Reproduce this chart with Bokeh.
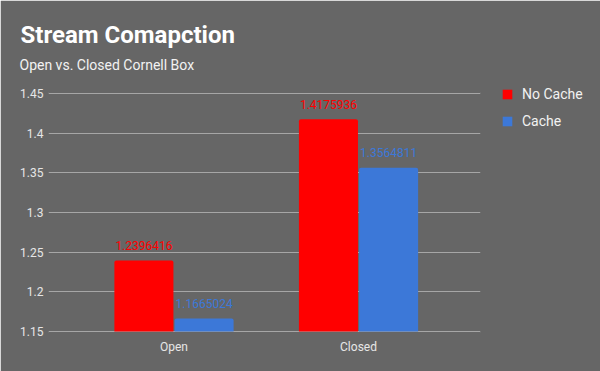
from bokeh.plotting import figure
from bokeh.models import (ColumnDataSource, Range1d, FixedTicker, Title, Legend, LegendItem)
from bokeh.core.properties import value
from bokeh.embed import file_html
from bokeh.resources import INLINE

categories = ["Open", "Closed"]
no_cache = [1.2396416, 1.4175936]
cache = [1.1665024, 1.3564811]
y_ticks = [1.15, 1.2, 1.25, 1.3, 1.35, 1.4, 1.45]

BG = "#666666"
RED = "#ff0000"
BLUE = "#3c78d8"
FONT = "Roboto"

xs = list(range(len(categories)))
bw = 0.32
off = 0.163
pad = 0.3 / 238  # one pixel of headroom so edge gridlines are not covered by the outline

p = figure(frame_width=432, frame_height=240, width=600, height=371,
           x_range=Range1d(-0.68, 1.661), y_range=Range1d(1.15 - pad, 1.45 + pad),
           output_backend="svg", toolbar_location=None, title_location=None,
           min_border_left=48, min_border_right=120, min_border_top=92, min_border_bottom=39)
p.background_fill_color = BG
p.border_fill_color = BG
p.outline_line_color = BG
p.outline_line_width = 1

src_nc = ColumnDataSource(dict(x=[v - off for v in xs], top=no_cache,
                               lx=[v - off - bw / 2 for v in xs], txt=[str(v) for v in no_cache]))
src_c = ColumnDataSource(dict(x=[v + off for v in xs], top=cache,
                              lx=[v + off - bw / 2 for v in xs], txt=[str(v) for v in cache]))

r1 = p.vbar(x="x", top="top", bottom=1.15, width=bw, source=src_nc, fill_color=RED,
            line_color=None, border_radius=(2, 2, 0, 0))
r2 = p.vbar(x="x", top="top", bottom=1.15, width=bw, source=src_c, fill_color=BLUE,
            line_color=None, border_radius=(2, 2, 0, 0))

for src, col in ((src_nc, RED), (src_c, BLUE)):
    p.text(x="lx", y="top", text="txt", source=src, text_color=col,
           text_font=value(FONT), text_font_size="12px", text_baseline="alphabetic",
           text_align="left", x_offset=1, y_offset=-15)

# axes
p.xaxis.ticker = FixedTicker(ticks=xs)
p.xaxis.major_label_overrides = {i: c for i, c in enumerate(categories)}
p.yaxis.ticker = FixedTicker(ticks=y_ticks)
p.yaxis.major_label_overrides = {t: ("%g" % t) for t in y_ticks}
for ax in (p.xaxis[0], p.yaxis[0]):
    ax.axis_line_color = None
    ax.major_tick_line_color = None
    ax.minor_tick_line_color = None
    ax.major_tick_out = 0
    ax.major_tick_in = 0
    ax.minor_tick_out = 0
    ax.minor_tick_in = 0
    ax.major_label_text_color = "#e6e6e6"
    ax.major_label_text_font = FONT
    ax.major_label_text_font_size = "12px"
p.yaxis.major_label_standoff = 5
p.xaxis.major_label_standoff = 7
p.xgrid.grid_line_color = None
p.ygrid.grid_line_color = "#a6a6a6"
p.ygrid.grid_line_width = 1

# subtitle (closest to plot) then title
p.add_layout(Title(text="Open vs. Closed Cornell Box", align="left", offset=-29, standoff=13,
                   padding={"left": 0, "right": 0, "top": 0, "bottom": 13},
                   text_font=FONT, text_font_size="14px", text_font_style="normal",
                   text_color="#f2f2f2"), "above")
p.add_layout(Title(text="Stream Comapction", align="left", offset=-28, standoff=0,
                   text_font=FONT, text_font_size="24px", text_font_style="bold",
                   text_color="#ffffff"), "above")

legend = Legend(items=[LegendItem(label="No Cache", renderers=[r1]),
                       LegendItem(label="Cache", renderers=[r2])],
                location=(21, 201), orientation="vertical",
                glyph_width=12, glyph_height=12, label_standoff=9, label_height=20,
                spacing=7, padding=0, margin=0,
                background_fill_alpha=0, border_line_color=None,
                label_text_font=FONT, label_text_font_size="14px", label_text_color="#f2f2f2")
p.add_layout(legend, "right")

open("out.html", "w").write(file_html(p, INLINE))
